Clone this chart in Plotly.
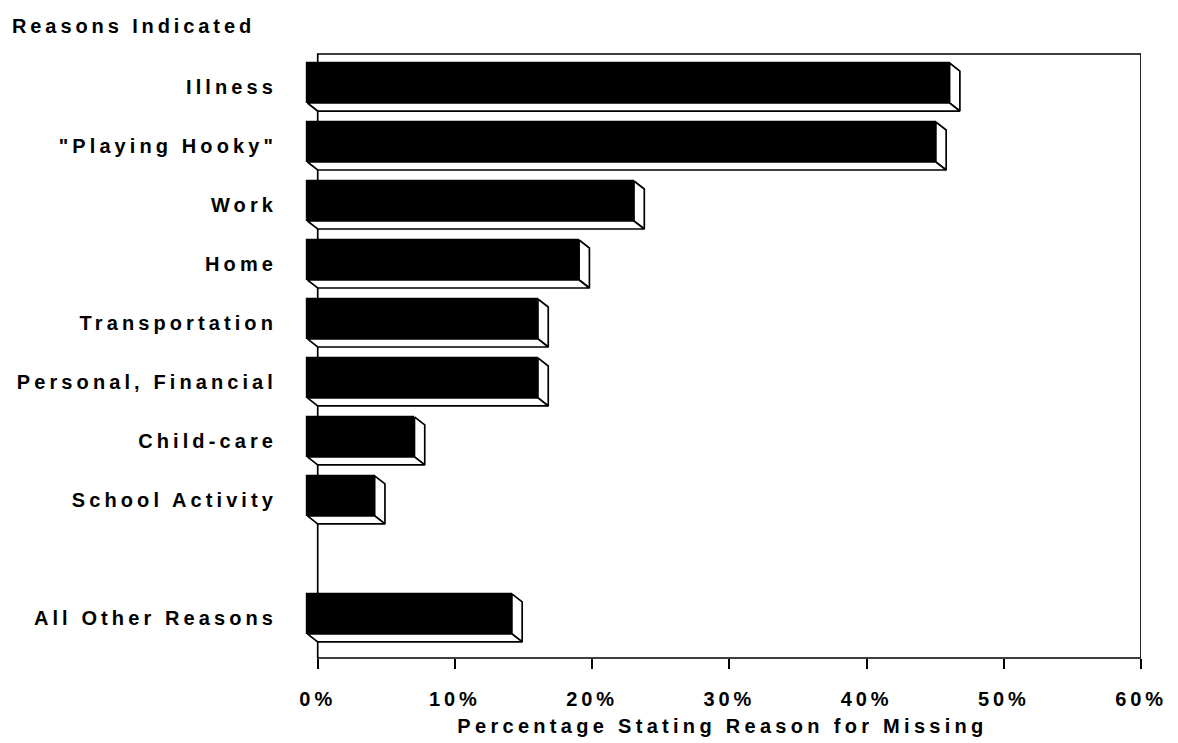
import plotly.graph_objects as go

# Share of students giving each reason for missing school (%)
categories = [
    "Illness",
    '"Playing Hooky"',
    "Work",
    "Home",
    "Transportation",
    "Personal, Financial",
    "Child-care",
    "School Activity",
    "All Other Reasons",
]
percent = [46.8, 45.8, 23.8, 19.8, 16.8, 16.8, 7.8, 4.9, 14.9]

x_ticks = [0, 10, 20, 30, 40, 50, 60]
x_tick_text = ["0%", "10%", "20%", "30%", "40%", "50%", "60%"]

# Row positions: a blank row separates the residual category
rows = []
for i, name in enumerate(categories):
    rows.append(i + 1 if name == "All Other Reasons" else i)

FONT = "Liberation Sans"


def spaced(text, spacing=3.9):
    return f"<span style='letter-spacing:{spacing}px'>{text}</span>"


TEXT_FONT = dict(family=FONT, size=20, color="black", weight="bold")

# Pseudo-3D extrusion, in data units
DX = 0.75      # horizontal depth
DY = 0.136     # vertical depth
FACE = 0.678   # height of the front face
front_top = -0.407

fig = go.Figure()

# Right and bottom faces of each block (white with outline)
for v, r in zip(percent, rows):
    ft = r + front_top
    fb = ft + FACE
    bt = ft + DY
    bb = fb + DY
    fig.add_trace(go.Scatter(
        x=[v - DX, v, v, v - DX, v - DX],
        y=[ft, bt, bb, fb, ft],
        mode="lines", fill="toself", fillcolor="white",
        line=dict(color="black", width=1.7),
        hoverinfo="skip", showlegend=False,
    ))
    fig.add_trace(go.Scatter(
        x=[-DX, v - DX, v, 0, -DX],
        y=[fb, fb, bb, bb, fb],
        mode="lines", fill="toself", fillcolor="white",
        line=dict(color="black", width=1.7),
        hoverinfo="skip", showlegend=False,
    ))

# Front faces
fig.add_trace(go.Bar(
    x=percent, y=rows, base=-DX, orientation="h",
    width=FACE, offset=front_top,
    marker=dict(color="black", line=dict(color="black", width=1.2)),
    hovertemplate="%{customdata}: %{x}%<extra></extra>",
    customdata=categories, showlegend=False,
))

# Plot frame
fig.add_shape(type="rect", xref="x", yref="paper", x0=0, x1=60, y0=0, y1=1,
              line=dict(color="black", width=1.7), layer="below")

fig.add_annotation(
    text=spaced("Reasons Indicated"), xref="paper", yref="paper",
    x=-0.3513, y=1.046, xanchor="left", yanchor="middle", showarrow=False,
    font=TEXT_FONT,
)

fig.update_layout(
    width=1178, height=743,
    margin=dict(l=304, r=37, t=54, b=85),
    paper_bgcolor="white", plot_bgcolor="white",
    font=TEXT_FONT,
    bargap=0,
    xaxis=dict(
        range=[-1, 60], showgrid=False, zeroline=False, showline=False,
        automargin=False,
        tickmode="array", tickvals=x_ticks,
        ticktext=[spaced(t) for t in x_tick_text],
        tickfont=TEXT_FONT,
        ticks="outside", ticklen=10, tickwidth=1.7, tickcolor="black",
        ticklabelstandoff=13,
        title=dict(text=spaced("Percentage Stating Reason for Missing", 4.3),
                   standoff=9, font=TEXT_FONT),
    ),
    yaxis=dict(
        range=[9.68, -0.56], showgrid=False, zeroline=False, showline=False,
        automargin=False,
        tickmode="array", tickvals=rows,
        ticktext=[spaced(c, 4.1) for c in categories],
        tickfont=TEXT_FONT,
        ticks="", ticklabelstandoff=26,
    ),
)

fig.write_html("out.html")
